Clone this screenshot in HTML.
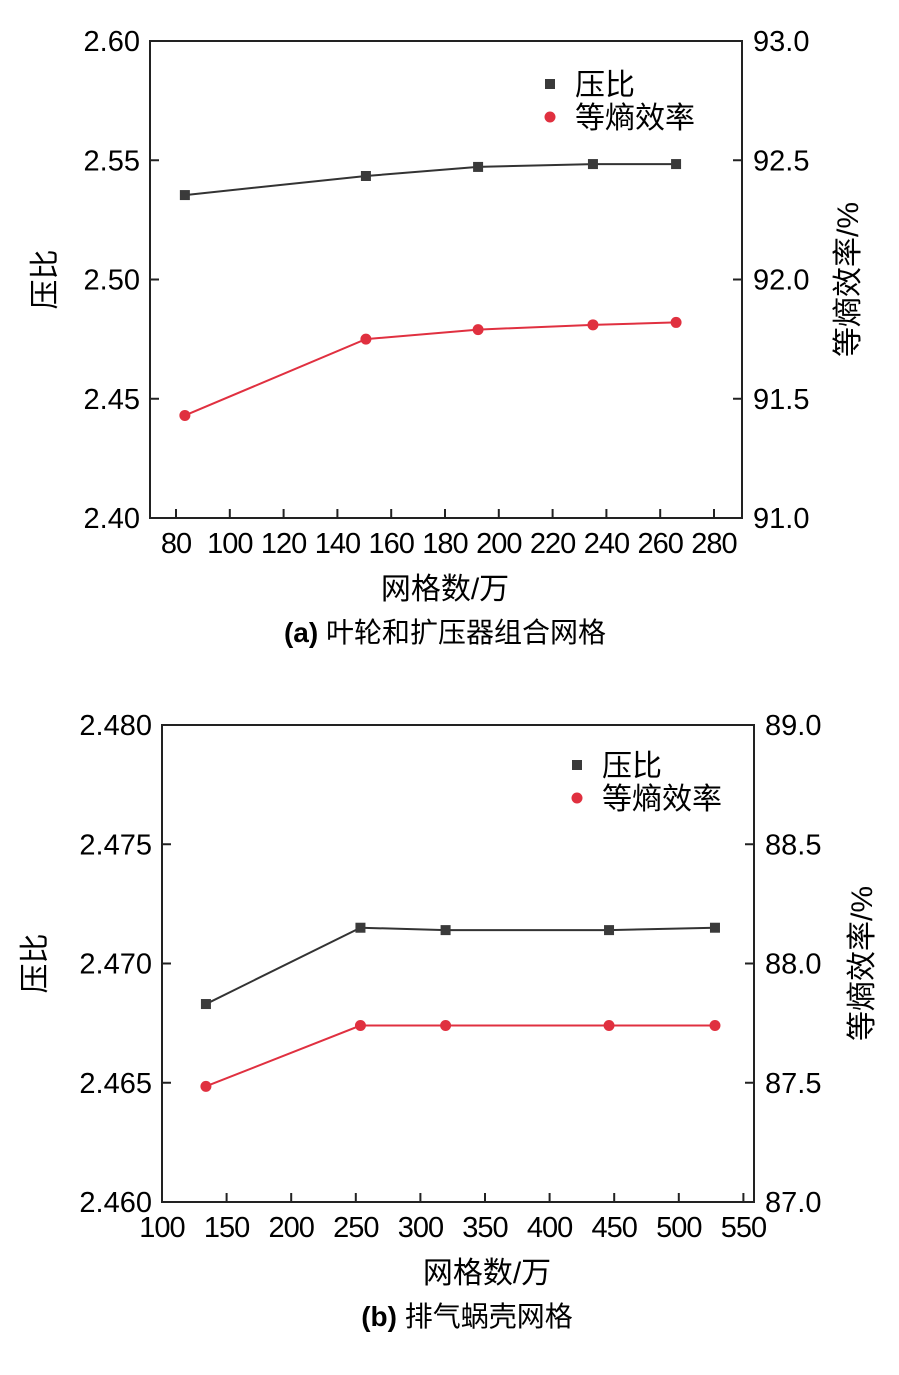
<!DOCTYPE html>
<html><head><meta charset="utf-8">
<style>
html,body{margin:0;padding:0;background:#fff;}
svg text{font-family:"Liberation Sans","Noto Sans CJK SC",sans-serif;fill:#000;}
</style></head>
<body>
<svg id="svg" width="899" height="1370" viewBox="0 0 899 1370" xmlns="http://www.w3.org/2000/svg"></svg>
<script>
// Chart (a)
const aGrid = [83.3, 150.6, 192.3, 235, 265.9];
const aPR = [2.5354, 2.5434, 2.5472, 2.5484, 2.5484];
const aEff = [91.43, 91.75, 91.79, 91.81, 91.82];
const aXTicks = [80,100,120,140,160,180,200,220,240,260,280];
const aYLTicks = ["2.40","2.45","2.50","2.55","2.60"];
const aYRTicks = ["91.0","91.5","92.0","92.5","93.0"];
// Chart (b)
const bGrid = [134, 253.6, 319.5, 446, 528];
const bPR = [2.4683, 2.4715, 2.4714, 2.4714, 2.4715];
const bEff = [87.485, 87.74, 87.74, 87.74, 87.74];
const bXTicks = [100,150,200,250,300,350,400,450,500,550];
const bYLTicks = ["2.460","2.465","2.470","2.475","2.480"];
const bYRTicks = ["87.0","87.5","88.0","88.5","89.0"];

const NS="http://www.w3.org/2000/svg";
const svg=document.getElementById('svg');
function mk(tag,attrs,parent,text){const e=document.createElementNS(NS,tag);for(const k in attrs)e.setAttribute(k,attrs[k]);if(text!==undefined)e.textContent=text;(parent||svg).appendChild(e);return e;}

function chart(o){
  const g=mk('g',{});
  
  
  const {L,R,T,B}=o;
  const sx=v=>o.xOff+(v-o.x0)*(o.xpx);
  const syL=v=>B-(v-o.yl0)/(o.yl1-o.yl0)*(B-T);
  const syR=v=>B-(v-o.yr0)/(o.yr1-o.yr0)*(B-T);
  const frame=mk('rect',{x:L,y:T,width:R-L,height:B-T,fill:'none',stroke:'#222','stroke-width':2},g);
  
  
  o.xt.forEach(v=>{const x=sx(v);
    const t=mk('line',{x1:x,x2:x,y1:B,y2:B-9,stroke:'#222','stroke-width':2},g);
    
    
    const l=mk('text',{x:x,y:B+35,'text-anchor':'middle','font-size':29,'letter-spacing':-1},g,String(v));
    
    
  });
  o.ylt.forEach(s=>{const y=syL(parseFloat(s));
    const t=mk('line',{x1:L,x2:L+9,y1:y,y2:y,stroke:'#222','stroke-width':2},g);
    
    
    const l=mk('text',{x:L-10,y:y+10,'text-anchor':'end','font-size':29},g,s);
    
    
  });
  o.yrt.forEach(s=>{const y=syR(parseFloat(s));
    const t=mk('line',{x1:R,x2:R-9,y1:y,y2:y,stroke:'#222','stroke-width':2},g);
    
    
    const l=mk('text',{x:R+11,y:y+10,'text-anchor':'start','font-size':29},g,s);
    
    
  });
  const pPts=o.gx.map((v,i)=>sx(v)+','+syL(o.pr[i])).join(' ');
  const pl=mk('polyline',{points:pPts,fill:'none',stroke:'#333','stroke-width':2},g);
  
  
  o.gx.forEach((v,i)=>{const m=mk('rect',{x:sx(v)-5,y:syL(o.pr[i])-5,width:10,height:10,fill:'#3a3a3a'},g);
    
    });
  const ePts=o.gx.map((v,i)=>sx(v)+','+syR(o.eff[i])).join(' ');
  const el=mk('polyline',{points:ePts,fill:'none',stroke:'#e03040','stroke-width':2},g);
  
  
  o.gx.forEach((v,i)=>{const m=mk('circle',{cx:sx(v),cy:syR(o.eff[i]),r:5.5,fill:'#e0303f'},g);
    
    });
  const lg=mk('g',{},g);
  
  
  const lx=o.legX, ly=o.legY;
  const s1=mk('rect',{x:lx-5,y:ly-5,width:10,height:10,fill:'#3a3a3a'},lg);
  
  
  const t1=mk('text',{x:lx+25,y:ly+11,'font-size':30},lg,'压比');
  
  
  const s2=mk('circle',{cx:lx,cy:ly+33,r:5.5,fill:'#e0303f'},lg);
  
  
  const t2=mk('text',{x:lx+25,y:ly+44,'font-size':30},lg,'等熵效率');
  
  
  const yl=mk('text',{x:0,y:0,'font-size':30,'text-anchor':'middle',transform:`translate(${o.ylX},${(T+B)/2}) rotate(-90)`},g,'压比');
  
  
  const yr=mk('text',{x:0,y:0,'font-size':30,'text-anchor':'middle',transform:`translate(${o.yrX},${(T+B)/2}) rotate(-90)`},g,'等熵效率/%');
  
  
  const xt=mk('text',{x:o.xtX,y:B+81,'font-size':30,'text-anchor':'middle'},g,'网格数/万');
  
  
  const cap=mk('text',{x:o.capX,y:B+124,'font-size':28,'text-anchor':'middle'},g);
  
  
  const b=mk('tspan',{'font-weight':'bold'},cap,o.capTag);
  
  
  const r=mk('tspan',{},cap,' '+o.cap);
  
  
}
chart({name:'chart-a',L:150,R:742,T:41,B:518,x0:80,xOff:176,xpx:2.69,yl0:2.40,yl1:2.60,yr0:91,yr1:93,
  xt:aXTicks,ylt:aYLTicks,yrt:aYRTicks,gx:aGrid,pr:aPR,eff:aEff,legX:550,legY:84,ylX:55,yrX:858,xtX:445,capX:445,capTag:'(a)',cap:'叶轮和扩压器组合网格'});
chart({name:'chart-b',L:162,R:754,T:725,B:1202,x0:100,xOff:162,xpx:1.292,yl0:2.460,yl1:2.480,yr0:87,yr1:89,
  xt:bXTicks,ylt:bYLTicks,yrt:bYRTicks,gx:bGrid,pr:bPR,eff:bEff,legX:577,legY:765,ylX:45,yrX:872,xtX:487,capX:467,capTag:'(b)',cap:'排气蜗壳网格'});
</script>
</body></html>
